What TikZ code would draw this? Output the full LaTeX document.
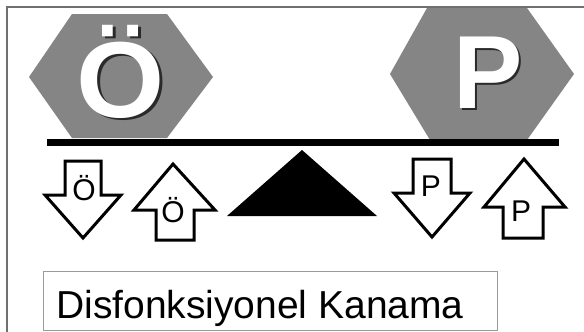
\documentclass[tikz,border=0pt]{standalone}
\usepackage{fontspec}
\setmainfont{Liberation Sans}
\newcommand{\shadowed}[1]{\rlap{\kern2.5pt\raisebox{-2.5pt}{\textcolor{shadowgray}{#1}}}#1}
\begin{document}
\begin{tikzpicture}[x=1pt,y=-1pt,
  hexa/.style={fill=hexgray,draw=none},
  arrowbox/.style={draw=black,line width=3pt,fill=white,line join=miter},
  bigletter/.style={text=white,font=\bfseries\fontsize{#1}{#1}\selectfont,inner sep=0pt,anchor=base},
  smallletter/.style={font=\fontsize{30}{30}\selectfont,inner sep=0pt,anchor=base}]
\definecolor{hexgray}{HTML}{858585}
\definecolor{shadowgray}{HTML}{2A2A2A}
\definecolor{framegray}{HTML}{707070}
\useasboundingbox (0,0) rectangle (584,332);
\fill[white] (0,0) rectangle (584,332);
% frame
\draw[framegray,line width=2pt] (7,332) -- (7,7) -- (584,7);
% hexagons
\fill[hexa] (72,14) -- (167,14) -- (213,77) -- (167,138) -- (72,138) -- (29,77) -- cycle;
\fill[hexa] (427,8) -- (527,8) -- (574,74) -- (527,140) -- (430,140) -- (390,74) -- cycle;
% big letters
\node[bigletter=108,xscale=1.05] (obig) at (121,117) {\shadowed{Ö}};
\node[bigletter=104] (pbig) at (488,108) {\shadowed{P}};
% beam
\draw[black,line width=7pt] (47,142) -- (559,142);
% fulcrum
\fill[black] (227,216) -- (302,150) -- (377,216) -- cycle;
% arrows
\draw[arrowbox] (65,161) -- (101,161) -- (101,195) -- (121,195) -- (83,238) -- (45,195) -- (65,195) -- cycle;
\draw[arrowbox] (173,164) -- (215,210) -- (194,210) -- (194,240) -- (156,240) -- (156,210) -- (134,210) -- cycle;
\draw[arrowbox] (413,159) -- (451,159) -- (451,193) -- (470,193) -- (432,237) -- (394,193) -- (413,193) -- cycle;
\draw[arrowbox] (524,159) -- (565,207) -- (543,207) -- (543,238) -- (503,238) -- (503,207) -- (484,207) -- cycle;
\node[smallletter] (o1) at (84,200) {Ö};
\node[smallletter] (o2) at (173,222) {Ö};
\node[smallletter] (p1) at (431,196) {P};
\node[smallletter] (p2) at (521,221) {P};
% label box
\draw[framegray!70,line width=1pt] (43,271) rectangle (497,330);
\node[font=\fontsize{39}{39}\selectfont,inner sep=0pt,anchor=base] (lbl) at (260,318) {Disfonksiyonel Kanama};
\end{tikzpicture}
\end{document}
